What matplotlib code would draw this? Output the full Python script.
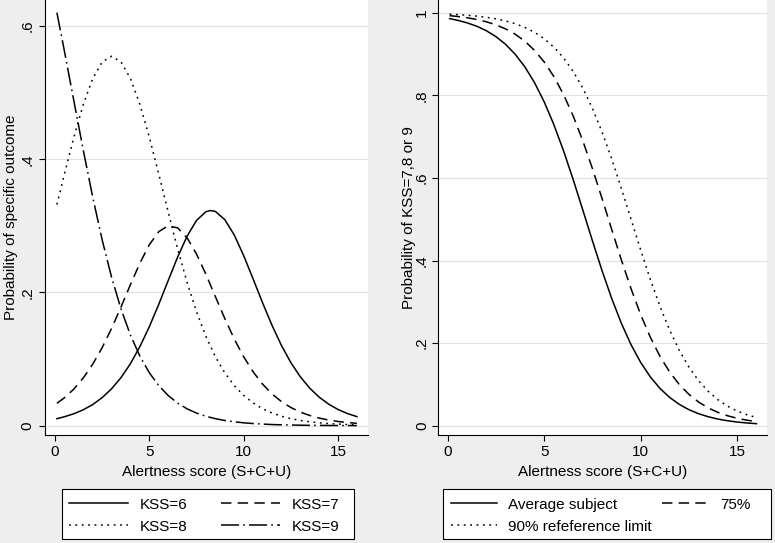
import matplotlib.pyplot as plt
from matplotlib.patches import Rectangle

plt.rcParams['font.family'] = ['Liberation Sans', 'DejaVu Sans']
plt.rcParams['lines.scale_dashes'] = False

# Alertness score grid
score = [0.1, 0.5, 1.0, 1.5, 2.0, 2.5, 3.0, 3.5, 4.0, 4.5, 5.0, 5.5, 6.0, 6.5, 7.0, 7.5,
         8.0, 8.5, 9.0, 9.5, 10.0, 10.5, 11.0, 11.5, 12.0, 12.5, 13.0, 13.5, 14.0, 14.5,
         15.0, 15.5, 16.0]
# KSS=6 has one extra reading at its peak (8.25)
score6 = [0.1, 0.5, 1.0, 1.5, 2.0, 2.5, 3.0, 3.5, 4.0, 4.5, 5.0, 5.5, 6.0, 6.5, 7.0, 7.5,
          8.0, 8.25, 8.5, 9.0, 9.5, 10.0, 10.5, 11.0, 11.5, 12.0, 12.5, 13.0, 13.5, 14.0,
          14.5, 15.0, 15.5, 16.0]

# Left panel: probability of each KSS outcome
kss6 = [0.0105, 0.0134, 0.0179, 0.0239, 0.0317, 0.0421, 0.0554, 0.0722, 0.0931, 0.1187,
        0.1486, 0.1822, 0.2179, 0.2531, 0.2844, 0.3081, 0.3212, 0.3230, 0.3216, 0.3093,
        0.2863, 0.2553, 0.2203, 0.1846, 0.1508, 0.1205, 0.0947, 0.0735, 0.0563, 0.0429,
        0.0324, 0.0243, 0.0182, 0.0136]
kss7 = [0.0336, 0.0419, 0.0550, 0.0717, 0.0924, 0.1172, 0.1461, 0.1782, 0.2118, 0.2440,
        0.2717, 0.2913, 0.3001, 0.2969, 0.2820, 0.2577, 0.2272, 0.1938, 0.1608, 0.1302,
        0.1035, 0.0809, 0.0624, 0.0477, 0.0362, 0.0273, 0.0204, 0.0153, 0.0114, 0.0085,
        0.0063, 0.0047, 0.0035]
kss8 = [0.3320, 0.3777, 0.4331, 0.4823, 0.5211, 0.5460, 0.5546, 0.5460, 0.5211, 0.4823,
        0.4331, 0.3777, 0.3207, 0.2655, 0.2152, 0.1711, 0.1339, 0.1036, 0.0793, 0.0602,
        0.0454, 0.0341, 0.0255, 0.0191, 0.0142, 0.0105, 0.0079, 0.0059, 0.0043, 0.0032,
        0.0024, 0.0017, 0.0013]
kss9 = [0.6201, 0.5622, 0.4875, 0.4134, 0.3430, 0.2789, 0.2227, 0.1751, 0.1359, 0.1043,
        0.0794, 0.0601, 0.0452, 0.0339, 0.0253, 0.0189, 0.0141, 0.0105, 0.0078, 0.0058,
        0.0043, 0.0032, 0.0024, 0.0017, 0.0013, 0.0010, 0.0007, 0.0005, 0.0004, 0.0003,
        0.0002, 0.0002, 0.0001]

# Right panel: probability of KSS 7, 8 or 9
avg_subject = [0.9857, 0.9818, 0.9756, 0.9674, 0.9565, 0.9421, 0.9234, 0.8993, 0.8688, 0.8306,
               0.7842, 0.7291, 0.6660, 0.5963, 0.5225, 0.4477, 0.3752, 0.3079, 0.2479, 0.1962,
               0.1532, 0.1182, 0.0903, 0.0685, 0.0517, 0.0388, 0.0290, 0.0217, 0.0161, 0.0120,
               0.0089, 0.0066, 0.0049]
pct75 = [0.9929, 0.9910, 0.9879, 0.9837, 0.9781, 0.9707, 0.9608, 0.9479, 0.9309, 0.9089,
         0.8808, 0.8455, 0.8022, 0.7503, 0.6900, 0.6225, 0.5498, 0.4750, 0.4013, 0.3318,
         0.2689, 0.2142, 0.1680, 0.1301, 0.0998, 0.0759, 0.0573, 0.0431, 0.0323, 0.0241,
         0.0180, 0.0134, 0.0099]
ref90 = [0.9965, 0.9955, 0.9939, 0.9918, 0.9890, 0.9852, 0.9802, 0.9734, 0.9644, 0.9526,
         0.9370, 0.9168, 0.8909, 0.8581, 0.8176, 0.7685, 0.7109, 0.6457, 0.5744, 0.5000,
         0.4256, 0.3543, 0.2891, 0.2315, 0.1824, 0.1419, 0.1091, 0.0832, 0.0630, 0.0474,
         0.0356, 0.0266, 0.0198]

left_yticks = [0, 0.2, 0.4, 0.6]
left_ylabels = ['0', '.2', '.4', '.6']
right_yticks = [0, 0.2, 0.4, 0.6, 0.8, 1.0]
right_ylabels = ['0', '.2', '.4', '.6', '.8', '1']

W, H = 775, 543
fig = plt.figure(figsize=(W / 100, H / 100), dpi=100, facecolor='#eeeeee')


def px_axes(x0, x1, y_top, y_bot):
    return fig.add_axes([x0 / W, 1 - y_bot / H, (x1 - x0) / W, (y_bot - y_top) / H])


SOLID = '-'
DASH = (0, (7.5, 4.5))
DOT = (0, (1.3, 3.3))
DASHDOT = (0, (13, 3, 1.2, 3))
LW = 1.1


def style_axes(ax, yticks, ylabels, xlim, ylim, ytitle, ytitle_x, ypad):
    ax.set_facecolor('white')
    ax.set_xlim(*xlim)
    ax.set_ylim(*ylim)
    ax.set_xticks([0, 5, 10, 15])
    ax.set_yticks(yticks)
    ax.set_yticklabels(ylabels)
    for s in ['top', 'right']:
        ax.spines[s].set_visible(False)
    for s in ['left', 'bottom']:
        ax.spines[s].set_linewidth(0.8)
        ax.spines[s].set_color('black')
    ax.tick_params(direction='out', length=4.3, width=0.8, labelsize=11, colors='black')
    ax.tick_params(axis='y', labelrotation=90, pad=ypad)
    ax.tick_params(axis='x', pad=3.2)
    for lab in ax.get_yticklabels():
        lab.set_va('center')
    ax.grid(axis='y', color='#e2e2e2', lw=0.8)
    ax.set_axisbelow(True)
    ax.set_xlabel('Alertness score (S+C+U)', fontsize=11)
    ax.xaxis.set_label_coords(0.5, -36.7 / 435)
    ax.xaxis.label.set_va('center')
    ax.set_ylabel(ytitle, fontsize=11)
    ax.yaxis.set_label_coords(ytitle_x, 0.5)
    ax.yaxis.label.set_va('center')


# Left panel
ax1 = px_axes(45, 368, 0, 435)
l6, = ax1.plot(score6, kss6, color='black', lw=LW, ls=SOLID)
l7, = ax1.plot(score, kss7, color='black', lw=LW, ls=DASH)
l8, = ax1.plot(score, kss8, color='black', lw=LW, ls=DOT)
l9, = ax1.plot(score, kss9, color='black', lw=LW, ls=DASHDOT)
style_axes(ax1, left_yticks, left_ylabels, (-0.53, 16.59), (-0.014, 0.639),
           'Probability of specific outcome', (11 - 45) / 323, 3.4)

# Right panel
ax2 = px_axes(437.7, 766.7, 0, 435)
r1, = ax2.plot(score, avg_subject, color='black', lw=LW, ls=SOLID)
r2, = ax2.plot(score, pct75, color='black', lw=LW, ls=DASH)
r3, = ax2.plot(score, ref90, color='black', lw=LW, ls=DOT)
style_axes(ax2, right_yticks, right_ylabels, (-0.518, 16.53), (-0.0225, 1.0308),
           'Probability of KSS=7,8 or 9', (409 - 437.7) / 329, 2.0)

# Legend boxes
for x0, x1 in [(62.3, 354), (443.3, 770.7)]:
    fig.add_artist(Rectangle((x0 / W, 1 - 539 / H), (x1 - x0) / W, 50 / H,
                             transform=fig.transFigure, facecolor='white',
                             edgecolor='black', lw=0.8, zorder=1))

fig.legend([l6, l8, l7, l9], ['KSS=6', 'KSS=8', 'KSS=7', 'KSS=9'],
           loc='upper left', bbox_to_anchor=(69.3 / W, 1 - 497.6 / H), ncol=2,
           frameon=False, fontsize=11, handlelength=3.86, handletextpad=0.76,
           columnspacing=2.2, labelspacing=0.52, borderpad=0, borderaxespad=0)
fig.legend([r1, r3, r2], ['Average subject', '90% refeference limit', '75%'],
           loc='upper left', bbox_to_anchor=(450.7 / W, 1 - 497.6 / H), ncol=2,
           frameon=False, fontsize=11, handlelength=3.05, handletextpad=0.72,
           columnspacing=0.67, labelspacing=0.52, borderpad=0, borderaxespad=0)

fig.savefig('out.png', dpi=100, facecolor=fig.get_facecolor())
